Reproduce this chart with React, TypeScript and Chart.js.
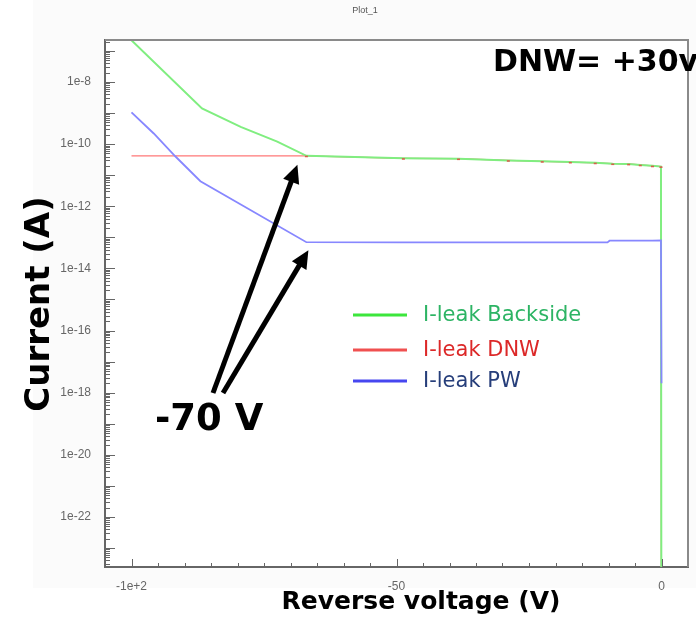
import React, { useEffect, useRef } from 'react';
import { Chart, registerables } from 'chart.js';

Chart.register(...registerables);

// ---------- data ----------
const chartTitle = 'Plot_1';
const xAxisTitle = 'Reverse voltage (V)';
const yAxisTitle = 'Current (A)';
const annotationTop = 'DNW= +30v';
const annotationKnee = '-70 V';

const seriesNames = ['I-leak Backside', 'I-leak DNW', 'I-leak PW'];

const xTickValues = [-100, -50, 0];
const xTickLabels = ['-1e+2', '-50', '0'];
const yTickExponents = [-22, -20, -18, -16, -14, -12, -10, -8];

const xMin = -105;
const xMax = 5;
const yMin = 2.45e-24;
const yMax = 2.25e-7;

const voltageBackside = [-100, -86.7, -79.4, -72.5, -67, -48.7, -38.3, -28.9, -22.5, -17.2, -12.5, -9.2, -6.2, -4, -1.7, -0.1, 0];
const currentBackside = [2.2e-7, 1.42e-9, 3.6e-10, 1.2e-10, 4.2e-11, 3.5e-11, 3.4e-11, 3.0e-11, 2.8e-11, 2.65e-11, 2.5e-11, 2.35e-11, 2.3e-11, 2.15e-11, 2.0e-11, 1.9e-11, 1e-30];

const voltageDNW = [-100, -67, -48.7, -38.3, -28.9, -22.5, -17.2, -12.5, -9.2, -6.2, -4, -1.7, -0.1, 0];
const currentDNW = [4.2e-11, 4.2e-11, 3.5e-11, 3.4e-11, 3.0e-11, 2.8e-11, 2.65e-11, 2.5e-11, 2.35e-11, 2.3e-11, 2.15e-11, 2.0e-11, 1.9e-11, 1e-30];

const voltagePW = [-100, -95.8, -91.7, -87, -67, -48.7, -38.3, -28.9, -22.5, -17.2, -12.5, -10.2, -9.8, -6.2, -4, -1.7, -0.1, 0];
const currentPW = [1.05e-9, 2.2e-10, 4.0e-11, 6.4e-12, 7.0e-14, 6.9e-14, 6.9e-14, 6.9e-14, 6.9e-14, 6.9e-14, 6.9e-14, 6.9e-14, 7.8e-14, 7.8e-14, 7.8e-14, 7.8e-14, 7.9e-14, 2.0e-18];

const kneeVoltage = -67;

// ---------- styles ----------
const lineColors = ['rgb(128,238,128)', 'rgb(255,120,120)', 'rgb(135,135,255)'];
const lineWidths = [2, 1.2, 1.8];
const legendLineColors = ['rgb(60,230,60)', 'rgb(240,80,80)', 'rgb(70,70,240)'];
const legendTextColors = ['rgb(45,180,100)', 'rgb(220,40,40)', 'rgb(38,62,122)'];
const FONT = '"DejaVu Sans", Verdana, sans-serif';
const SMALL_FONT = '"Liberation Sans", Arial, sans-serif';

const toXY = (xs: number[], ys: number[]) => xs.map((x, i) => ({ x, y: ys[i] }));

function drawArrow(ctx: CanvasRenderingContext2D, x0: number, y0: number, x1: number, y1: number) {
  const ang = Math.atan2(y1 - y0, x1 - x0);
  const headLen = 18;
  const headW = 8.5;
  const bx = x1 - headLen * Math.cos(ang);
  const by = y1 - headLen * Math.sin(ang);
  ctx.lineWidth = 5;
  ctx.lineCap = 'butt';
  ctx.beginPath();
  ctx.moveTo(x0, y0);
  ctx.lineTo(bx + 2 * Math.cos(ang), by + 2 * Math.sin(ang));
  ctx.stroke();
  ctx.beginPath();
  ctx.moveTo(x1, y1);
  ctx.lineTo(bx + headW * Math.sin(ang), by - headW * Math.cos(ang));
  ctx.lineTo(bx - headW * Math.sin(ang), by + headW * Math.cos(ang));
  ctx.closePath();
  ctx.fill();
}

const decorPlugin = {
  id: 'decor',
  beforeDraw(chart: any) {
    const { ctx, chartArea: a, width, height } = chart;
    ctx.save();
    ctx.fillStyle = '#ffffff';
    ctx.fillRect(0, 0, width, height);
    ctx.fillStyle = '#fbfbfb';
    ctx.fillRect(33, 0, width - 33, 588);
    ctx.fillStyle = '#ffffff';
    ctx.fillRect(a.left, a.top, a.right - a.left, a.bottom - a.top);
    ctx.restore();
  },
  afterDatasetsDraw(chart: any) {
    // small red marks where DNW vertices peek under the backside curve
    const { ctx } = chart;
    const meta = chart.getDatasetMeta(1);
    ctx.save();
    ctx.fillStyle = 'rgb(215,95,75)';
    meta.data.forEach((pt: any, i: number) => {
      if (i < 1 || i >= meta.data.length - 1) return;
      ctx.fillRect(pt.x - 1.5, pt.y - 0.2, 3, 1.6);
    });
    ctx.restore();
  },
  afterDraw(chart: any) {
    const { ctx, chartArea: a, scales } = chart;
    const xs = scales.x;
    const ys = scales.y;
    ctx.save();

    // frame (top/right)
    ctx.strokeStyle = '#8a8a8a';
    ctx.lineWidth = 2;
    ctx.beginPath();
    ctx.moveTo(a.left, a.top);
    ctx.lineTo(a.right, a.top);
    ctx.lineTo(a.right, a.bottom);
    ctx.stroke();

    // y tick marks (inward, log minor)
    ctx.strokeStyle = '#666';
    ctx.lineWidth = 1;
    for (let e = -25; e <= -6; e++) {
      for (let m = 1; m <= 9; m++) {
        const v = m * Math.pow(10, e);
        if (v < yMin || v > yMax) continue;
        const py = Math.round(ys.getPixelForValue(v)) + 0.5;
        const len = m === 1 ? 10 : 5;
        ctx.beginPath();
        ctx.moveTo(a.left, py);
        ctx.lineTo(a.left + len, py);
        ctx.stroke();
      }
    }
    // x tick marks (inward)
    for (let v = -100; v <= 0; v += 5) {
      const px = Math.round(xs.getPixelForValue(v)) + 0.5;
      const len = v % 50 === 0 ? 8 : 4;
      ctx.beginPath();
      ctx.moveTo(px, a.bottom);
      ctx.lineTo(px, a.bottom - len);
      ctx.stroke();
    }

    // chart title
    ctx.fillStyle = '#555';
    ctx.font = `9px ${SMALL_FONT}`;
    ctx.textAlign = 'center';
    ctx.textBaseline = 'middle';
    ctx.fillText(chartTitle, 365, 11);

    // axis titles
    ctx.fillStyle = '#000';
    ctx.font = `bold 34px ${FONT}`;
    ctx.save();
    ctx.translate(40, 304);
    ctx.rotate(-Math.PI / 2);
    ctx.fillText(yAxisTitle, 0, 0);
    ctx.restore();
    ctx.font = `bold 25px ${FONT}`;
    ctx.fillText(xAxisTitle, 421, 602);

    // legend
    const legendY = [315, 350, 381];
    seriesNames.forEach((name, i) => {
      ctx.strokeStyle = legendLineColors[i];
      ctx.lineWidth = 3;
      ctx.beginPath();
      ctx.moveTo(353, legendY[i]);
      ctx.lineTo(407, legendY[i]);
      ctx.stroke();
      ctx.fillStyle = legendTextColors[i];
      ctx.font = `21px ${FONT}`;
      ctx.textAlign = 'left';
      ctx.textBaseline = 'middle';
      ctx.fillText(name, 423, legendY[i] + 1);
    });

    // annotations
    ctx.fillStyle = '#000';
    ctx.strokeStyle = '#000';
    ctx.textAlign = 'left';
    ctx.textBaseline = 'alphabetic';
    ctx.font = `bold 30px ${FONT}`;
    ctx.fillText(annotationTop, 493, 71);
    ctx.font = `bold 37px ${FONT}`;
    ctx.fillText(annotationKnee, 155, 430);

    const kx = xs.getPixelForValue(kneeVoltage);
    const kyG = ys.getPixelForValue(currentBackside[voltageBackside.indexOf(kneeVoltage)]);
    const kyB = ys.getPixelForValue(currentPW[voltagePW.indexOf(kneeVoltage)]);
    drawArrow(ctx, 213, 393, kx - 9, kyG + 9);
    drawArrow(ctx, 223, 393, kx + 2, kyB + 8);

    ctx.restore();
  },
};

export default function App() {
  const canvasRef = useRef<HTMLCanvasElement | null>(null);

  useEffect(() => {
    document.body.style.margin = '0';
    const canvas = canvasRef.current;
    if (!canvas) return;
    const common = { pointRadius: 0, tension: 0, fill: false };
    const chart = new Chart(canvas, {
      type: 'line',
      data: {
        datasets: [
          { ...common, label: seriesNames[0], data: toXY(voltageBackside, currentBackside), borderColor: lineColors[0], borderWidth: lineWidths[0], order: 1 },
          { ...common, label: seriesNames[1], data: toXY(voltageDNW, currentDNW), borderColor: lineColors[1], borderWidth: lineWidths[1], order: 2 },
          { ...common, label: seriesNames[2], data: toXY(voltagePW, currentPW), borderColor: lineColors[2], borderWidth: lineWidths[2], order: 0 },
        ],
      },
      options: {
        responsive: false,
        animation: false,
        devicePixelRatio: 1,
        layout: { padding: { left: 0, top: 40, right: 8, bottom: 0 } },
        plugins: { legend: { display: false }, title: { display: false }, tooltip: { enabled: false } },
        scales: {
          x: {
            type: 'linear',
            min: xMin,
            max: xMax,
            grid: { display: false },
            border: { display: true, color: '#666', width: 2 },
            afterBuildTicks: (scale: any) => {
              scale.ticks = xTickValues.map((v) => ({ value: v }));
            },
            afterFit: (scale: any) => {
              scale.height = 58;
            },
            ticks: {
              autoSkip: false,
              maxRotation: 0,
              padding: 4,
              color: '#666',
              font: { family: SMALL_FONT, size: 12 },
              callback: (v: any) => {
                const i = xTickValues.indexOf(Number(v));
                return i >= 0 ? xTickLabels[i] : '';
              },
            },
          },
          y: {
            type: 'logarithmic',
            min: yMin,
            max: yMax,
            grid: { display: false },
            border: { display: true, color: '#666', width: 2 },
            afterBuildTicks: (scale: any) => {
              scale.ticks = yTickExponents.map((e) => ({ value: Math.pow(10, e) }));
            },
            afterFit: (scale: any) => {
              scale.width = 105;
            },
            ticks: {
              autoSkip: false,
              padding: 6,
              color: '#666',
              font: { family: SMALL_FONT, size: 12 },
              callback: (v: any) => `1e${Math.round(Math.log10(Number(v)))}`,
            },
          },
        },
      },
      plugins: [decorPlugin],
    } as any);
    return () => chart.destroy();
  }, []);

  return (
    <div style={{ width: 696, height: 625 }}>
      <canvas ref={canvasRef} width={696} height={625} style={{ display: 'block' }} />
    </div>
  );
}
